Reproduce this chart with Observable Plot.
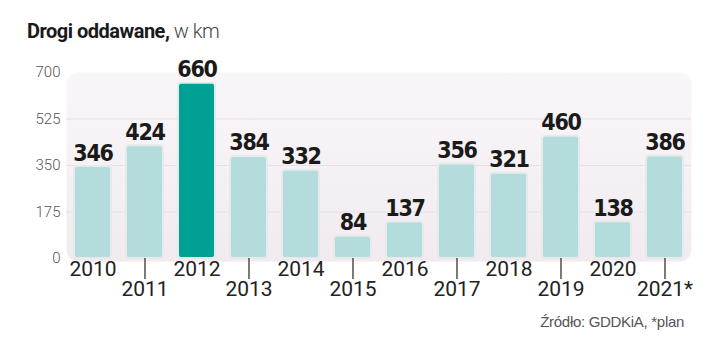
<!DOCTYPE html>
<html>
<head>
<meta charset="utf-8">
<script src="https://cdn.jsdelivr.net/npm/d3@7"></script>
<script src="https://cdn.jsdelivr.net/npm/@observablehq/plot@0.6"></script>
<style>
  body { margin: 0; background: #fff; width: 720px; height: 356px; overflow: hidden; position: relative; font-family: Roboto, "Open Sans", sans-serif; }
  #title { height: 50px; box-sizing: border-box; padding: 19px 0 0 27px; font-size: 20px; color: #1a1a1a; letter-spacing: -0.5px; }
  #title b { font-weight: 700; }
  #title span { font-weight: 300; color: #444; }
  #source { position: absolute; top: 313px; right: 36px; font-family: "Liberation Sans", Arial, sans-serif; font-size: 15px; color: #555; letter-spacing: -0.3px; }
  #chart svg { display: block; }
  .vals text { font-stretch: condensed; letter-spacing: -1.2px; }
</style>
</head>
<body>
<div id="title"><b>Drogi oddawane,</b> <span>w km</span></div>
<div id="chart"></div>
<div id="source">Źródło: GDDKiA, *plan</div>
<script>
const years = ["2010","2011","2012","2013","2014","2015","2016","2017","2018","2019","2020","2021*"];
const values = [346, 424, 660, 384, 332, 84, 137, 356, 321, 460, 138, 386];
const highlight = "2012";
const yTicks = [0, 175, 350, 525, 700];

const data = years.map((y, i) => ({year: y, value: values[i]}));
const evenYears = years.filter((y, i) => i % 2 === 0);
const oddYears = years.filter((y, i) => i % 2 === 1);

const chart = Plot.plot({
  width: 720,
  height: 306,
  marginLeft: 66,
  marginRight: 29,
  marginTop: 22,
  marginBottom: 98,
  x: {domain: years, paddingInner: 0.29, paddingOuter: 0.13},
  y: {domain: [0, 700]},
  marks: [
    Plot.frame({fill: "url(#bgGrad)", stroke: "none", rx: 12, insetBottom: -3}),
    Plot.ruleY([175, 350, 525], {stroke: "#e6dfe5", strokeWidth: 1}),
    Plot.barY(data, {
      x: "year", y: "value",
      fill: d => d.year === highlight ? "#00a195" : "#b5dcdc",
      stroke: "#e6eaea", strokeWidth: 2, rx: 3
    }),
    Plot.text(data, {
      x: "year", y: "value", text: d => String(d.value),
      lineAnchor: "bottom", dy: -6, fontSize: 23, fontWeight: "bold",
      fontFamily: "'DejaVu Sans', sans-serif", className: "vals",
      fill: "#1a1a1a"
    }),
    Plot.axisY(yTicks, {
      tickSize: 0, tickPadding: 6, fontSize: 15, fontWeight: 300, fill: "#555",
      fontFamily: "Roboto, sans-serif", label: null
    }),
    Plot.axisX(evenYears, {
      tickSize: 0, tickPadding: 3, fontSize: 21, fill: "#222",
      fontFamily: "Roboto, sans-serif", label: null
    }),
    Plot.axisX(oddYears, {
      tickSize: 21, tickPadding: 2, fontSize: 21, fill: "#222", stroke: "#222",
      strokeWidth: 1.2, fontFamily: "Roboto, sans-serif", label: null
    })
  ]
});

// gradient definition for the background panel
const ns = "http://www.w3.org/2000/svg";
const defs = document.createElementNS(ns, "defs");
defs.innerHTML = '<linearGradient id="bgGrad" x1="0" y1="0" x2="0" y2="1">' +
  '<stop offset="0" stop-color="#f9f6f9"/><stop offset="1" stop-color="#f1ebf0"/></linearGradient>';
chart.insertBefore(defs, chart.firstChild);

document.getElementById("chart").appendChild(chart);
</script>
</body>
</html>
